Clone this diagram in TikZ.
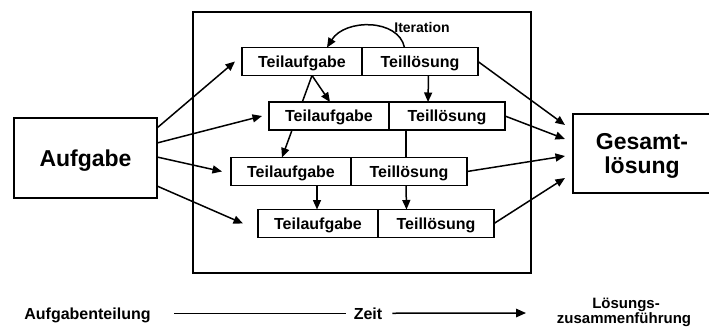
\documentclass[tikz,border=0pt]{standalone}
\usepackage{fontspec}
\setmainfont{Liberation Sans}
\usetikzlibrary{arrows.meta,calc}
\pgfdeclarelayer{bg}
\pgfsetlayers{bg,main}
\begin{document}
\begin{tikzpicture}[x=1pt,y=-1pt,
  box/.style={draw, line width=1.5pt, fill=white, outer sep=0pt, inner sep=2pt},
  ta/.style={box, minimum width=120pt, minimum height=28pt, font=\fontsize{16}{19}\selectfont\bfseries, text height=11.5pt, text depth=0pt},
  tl/.style={ta, minimum width=116pt},
  big/.style={box, font=\fontsize{23}{24}\selectfont\bfseries, text depth=0pt},
  arr/.style={line width=1.5pt, -{Triangle[length=9.5pt,width=8pt]}},
  ln/.style={line width=1.5pt},
  lab/.style={font=\fontsize{16}{19}\selectfont\bfseries, inner sep=0pt, text height=11.5pt, text depth=0pt}
]
\useasboundingbox (0,0) rectangle (709,327);
\clip (0,0) rectangle (709,327);

% frame
\node[draw, line width=1.5pt, outer sep=0pt, minimum width=338pt, minimum height=261pt] (F) at (362,142.5) {};

% left and right boxes
\node[big, minimum width=143pt, minimum height=80pt, text height=16.5pt] (A) at (85.5,158) {Aufgabe};
\node[big, minimum width=138pt, minimum height=79pt, align=center, text height=40.5pt] (G) at (642,153.5) {Gesamt-\\lösung};

% rows
\node[ta] (ta1) at (302,61.5) {Teilaufgabe};
\node[tl, anchor=west] (tl1) at (ta1.east) {Teillösung};
\node[ta] (ta2) at (329,116) {Teilaufgabe};
\node[tl, anchor=west] (tl2) at (ta2.east) {Teillösung};
\node[ta] (ta3) at (291,171.5) {Teilaufgabe};
\node[tl, anchor=west] (tl3) at (ta3.east) {Teillösung};
\node[ta] (ta4) at (318,223.5) {Teilaufgabe};
\node[tl, anchor=west] (tl4) at (ta4.east) {Teillösung};

% iteration
\node[lab, font=\fontsize{14}{16}\selectfont\bfseries, text height=10pt] (it) at (422,27) {Iteration};
\draw[arr] ([xshift=-15.5pt]tl1.north) .. controls +(-6,-29) and +(18,-29) .. ([xshift=25pt]ta1.north);

% internal connectors
\begin{pgfonlayer}{bg}
\draw[arr] ([xshift=10pt]ta1.south) -- ([xshift=-9pt]ta3.north);
\end{pgfonlayer}
\draw[arr] ([xshift=10pt]ta1.south) -- ([xshift=1pt]ta2.north);
\draw[arr] ([xshift=8.5pt]tl1.south) -- ([xshift=-19pt]tl2.north);
\draw[ln] ([xshift=-41pt]tl2.south) -- ([xshift=-3pt]tl3.north);
\draw[arr] ([xshift=26pt]ta3.south) -- ([xshift=-1pt]ta4.north);
\draw[arr] ([xshift=-3pt]tl3.south) -- ([xshift=-29.5pt]tl4.north);

% from Aufgabe
\draw[arr] ([yshift=-10pt]A.north east) -- ([xshift=-7pt]ta1.west);
\draw[arr] ([yshift=-25pt]A.north east) -- ([xshift=-7pt]ta2.west);
\draw[arr] ([yshift=-39pt]A.north east) -- ([xshift=-9pt]ta3.west);
\draw[arr] ([yshift=-68pt]A.north east) -- ([xshift=-15pt]ta4.west);

% into Gesamtloesung
\draw[arr] (tl1.east) -- ([xshift=-8pt,yshift=-11pt]G.north west);
\draw[arr] (tl2.east) -- ([xshift=-8pt,yshift=-25pt]G.north west);
\draw[arr] (tl3.east) -- ([xshift=-8pt,yshift=-42pt]G.north west);
\draw[arr] (tl4.east) -- ([xshift=-8pt,yshift=-64pt]G.north west);

% bottom axis
\node[lab, anchor=base] (AT) at (87.5,319) {Aufgabenteilung};
\node[lab, anchor=base] (Z) at (368,319) {Zeit};
\node[lab, font=\fontsize{15}{17}\selectfont\bfseries, text height=11pt, anchor=base] (L1) at (626,308.5) {Lösungs-};
\node[lab, font=\fontsize{15}{17}\selectfont\bfseries, text height=11pt, anchor=base] (L2) at (624,323.5) {zusammenführung};
\coordinate (tend) at (526,313);
\draw[ln] ([xshift=23.5pt]AT.east) -- ([xshift=-8pt]Z.west);
\draw[line width=1.5pt, -{Triangle[length=10pt,width=8.5pt]}] ([xshift=10pt]Z.east) -- (tend);
\end{tikzpicture}
\end{document}
